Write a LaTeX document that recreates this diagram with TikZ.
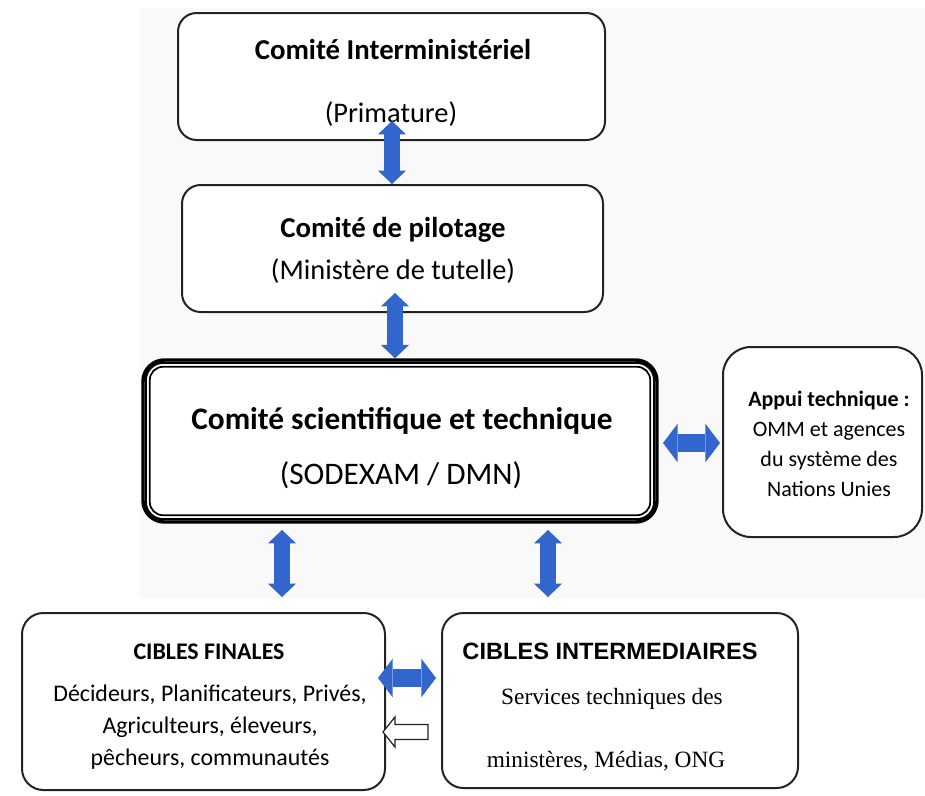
\documentclass[tikz,border=0pt]{standalone}
\usepackage{fontspec}
\setmainfont{Carlito}
\newfontfamily\arialf{Liberation Sans}
\newfontfamily\timesf{Liberation Serif}
\usetikzlibrary{fit,arrows.meta}
\definecolor{bggray}{RGB}{249,249,249}
\definecolor{arrblue}{RGB}{50,102,204}
\definecolor{boxline}{RGB}{35,35,35}
\begin{document}
\begin{tikzpicture}[x=0.75pt,y=-0.75pt,
  box/.style={draw=boxline, line width=1.5pt, fill=white, rounded corners=14pt, inner sep=0pt},
  lbl/.style={inner sep=0pt, text height=0.6em, text depth=0pt, anchor=center},
  varrow/.style={draw=arrblue, line width=11.5pt, {Triangle[width=21pt,length=10pt,line width=0pt]}-{Triangle[width=21pt,length=10pt,line width=0pt]}},
  harrow/.style={draw=arrblue, line width=13.5pt, {Triangle[width=29pt,length=11pt,line width=0pt]}-{Triangle[width=29pt,length=11pt,line width=0pt]}},
  hollow/.style={draw=boxline, line width=0.9pt, fill=white, line join=miter},
  ftitle/.style={font=\fontsize{21.6}{25}\selectfont\bfseries},
  fsub/.style={font=\fontsize{21.3}{25}\selectfont},
  fbig/.style={font=\fontsize{23.5}{28}\selectfont\bfseries},
  fbigsub/.style={font=\fontsize{23.5}{28}\selectfont},
  fsmall/.style={font=\fontsize{16.5}{20}\selectfont},
  fsmallb/.style={font=\fontsize{16.5}{20}\selectfont\bfseries},
  fcf/.style={font=\fontsize{17.9}{21}\selectfont},
  fcfb/.style={font=\fontsize{17.9}{21}\selectfont\bfseries}
]
\useasboundingbox (0,0) rectangle (925,796);
\fill[white] (0,0) rectangle (925,796);
\fill[bggray] (140,8) rectangle (925,598);

% boxes
\node[box, fit={(178,13) (605,140)}] (b1) {};
\node[box, fit={(182,185) (603,312)}] (b2) {};
\node[draw=black, line width=2.6pt, fill=white, rounded corners=16pt, inner sep=0pt, fit={(143,360) (657,522)}] (b3) {};
\draw[black, line width=1.7pt, rounded corners=13pt] ([shift={(4.5,4.5)}]b3.north west) rectangle ([shift={(-4.5,-4.5)}]b3.south east);
\draw[black, line width=1.3pt, rounded corners=10pt] ([shift={(8.5,8.5)}]b3.north west) rectangle ([shift={(-8.5,-8.5)}]b3.south east);
\node[box, rounded corners=21pt, fit={(723,347) (922,537)}] (b4) {};
\node[box, rounded corners=16pt, fit={(22,613) (385,790)}] (b5) {};
\node[box, rounded corners=16pt, fit={(442,613) (798,788)}] (b6) {};

% texts
\node[lbl, ftitle] (t1a) at (393,55) {Comité Interministériel};
\node[lbl, fsub] (t1b) at (391,118) {(Primature)};
\node[lbl, ftitle] (t2a) at (393,233) {Comité de pilotage};
\node[lbl, fsub] (t2b) at (393,275) {(Ministère de tutelle)};
\node[lbl, fbig] (t3a) at (402,425) {Comité scientifique et technique};
\node[lbl, fbigsub] (t3b) at (401,480) {(SODEXAM / DMN)};
\node[lbl, fsmallb] (t4a) at (829,402) {Appui technique :};
\node[lbl, fsmall] (t4b) at (829,432) {OMM et agences};
\node[lbl, fsmall] (t4c) at (829,462) {du système des};
\node[lbl, fsmall] (t4d) at (829,492) {Nations Unies};
\node[lbl, fcfb] (t5a) at (209,655) {CIBLES FINALES};
\node[lbl, fcf] (t5b) at (210,697) {Décideurs, Planificateurs, Privés,};
\node[lbl, fcf] (t5c) at (210,729) {Agriculteurs, éleveurs,};
\node[lbl, fcf] (t5d) at (210,761) {pêcheurs, communautés};
\node[lbl, font=\arialf\fontsize{17.7}{21}\selectfont\bfseries] (t6a) at (610,655) {CIBLES INTERMEDIAIRES};
\node[lbl, font=\timesf\fontsize{17.5}{20}\selectfont] (t6b) at (612,700) {Services techniques des};
\node[lbl, font=\timesf\fontsize{17.5}{20}\selectfont] (t6c) at (606,763) {ministères, Médias, ONG};

% blue arrows
\coordinate (a1t) at (392,121);
\draw[varrow] (a1t) -- (a1t |- b2.north);
\coordinate (a2t) at (395,293);
\draw[varrow] (a2t) -- (a2t |- b3.north);
\coordinate (a3t) at (282,530);
\coordinate (a3b) at (282,597);
\draw[varrow] (a3t) -- (a3b);
\coordinate (a4t) at (548,530);
\coordinate (a4b) at (548,597);
\draw[varrow] (a4t) -- (a4b);
\coordinate (a5l) at (663,443);
\coordinate (a5r) at (720,443);
\draw[harrow] (a5l) -- (a5r);
\coordinate (a6l) at (378,678);
\coordinate (a6r) at (436,678);
\draw[harrow] (a6l) -- (a6r);

% hollow arrow
\coordinate (h1) at (383,732);
\draw[hollow] (h1) -- ++(12,-15) -- ++(0,7.5) -- ++(33,0) -- ++(0,15) -- ++(-33,0) -- ++(0,7.5) -- cycle;
\end{tikzpicture}
\end{document}
